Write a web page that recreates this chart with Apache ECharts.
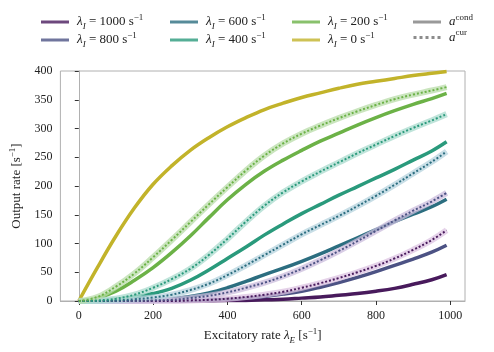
<!DOCTYPE html>
<html>
<head>
<meta charset="utf-8">
<script src="https://cdn.jsdelivr.net/npm/echarts@6/dist/echarts.min.js"></script>
<style>
  html, body { margin: 0; background: #ffffff; }
  #chart { width: 494px; height: 352px; }
</style>
</head>
<body>
<div id="chart"></div>
<script>
// excitatory rate lambda_E [1/s]
const rateE = [0, 50, 100, 150, 200, 250, 300, 350, 400, 450, 500, 550, 600, 650, 700, 750, 800, 850, 900, 950, 990];

// inhibitory rates lambda_I [1/s]
const inhRates = [1000, 800, 600, 400, 200, 0];

// a^cond (solid) output rates
const cond1000 = [0, 0, 0, 0, 0, 0, 0, 0, 1, 1, 2, 3, 5, 7, 10, 13, 17, 22, 29, 37, 46];
const cond800 = [0, 0, 0, 0, 0, 0, 1, 2, 3, 5, 8, 12, 17, 24, 32, 41, 51, 62, 73, 85, 97];
const cond600 = [0, 0, 0, 1, 2, 4, 8, 14, 23, 34, 46, 57, 69, 82, 96, 110, 124, 138, 151, 164, 177];
const cond400 = [0, 1, 3, 7, 13, 22, 36, 54, 74, 94, 115, 134, 152, 168, 184, 199, 214, 229, 245, 261, 277];
const cond200 = [0, 5, 17, 36, 58, 84, 113, 145, 176, 203, 226, 245, 262, 278, 292, 306, 319, 331, 342, 352, 361];
const cond0 = [0, 58, 113, 162, 203, 235, 262, 284, 303, 319, 333, 344, 354, 362, 370, 377, 382, 387, 392, 396, 399];

// a^cur (dotted) output rates
const cur1000 = [0, 0, 0, 0, 0, 0, 1, 2, 4, 7, 11, 16, 23, 31, 40, 50, 61, 74, 89, 106, 123];
const cur800 = [0, 0, 0, 0, 1, 2, 5, 9, 15, 23, 32, 43, 56, 71, 87, 104, 122, 140, 157, 173, 188];
const cur600 = [0, 0, 1, 3, 6, 11, 19, 30, 45, 62, 80, 98, 116, 132, 148, 165, 183, 202, 222, 242, 260];
const cur400 = [0, 1, 4, 11, 23, 38, 56, 80, 108, 138, 166, 189, 208, 225, 241, 257, 272, 287, 301, 314, 325];
const cur200 = [0, 7, 25, 48, 76, 106, 137, 168, 198, 227, 253, 274, 291, 305, 318, 330, 341, 351, 359, 366, 372];

const xTicks = [0, 200, 400, 600, 800, 1000];
const yTicks = [0, 50, 100, 150, 200, 250, 300, 350, 400];

const condData = [cond1000, cond800, cond600, cond400, cond200, cond0];
const curData = [cur1000, cur800, cur600, cur400, cur200, null];

const lineColors = ["#481a5c", "#4c5284", "#2c6e80", "#2a9a7c", "#6cb247", "#c2b32a"];
const bandColors = ["#dcc3e2", "#cbbcdc", "#b5d3de", "#a9dbcd", "#b8dca8", null];

const fontFamily = "Liberation Serif";
const rich = {
  t: { fontFamily, fontSize: 13, color: "#222", verticalAlign: "middle", lineHeight: 18 },
  l: { fontFamily, fontSize: 13, color: "#222", fontStyle: "italic", verticalAlign: "middle", lineHeight: 18 },
  s: { fontFamily, fontSize: 9, color: "#222", fontStyle: "italic", verticalAlign: "bottom", lineHeight: 18 },
  p: { fontFamily, fontSize: 9, color: "#222", verticalAlign: "top", lineHeight: 18 },
};

const pairs = (ys) => rateE.map((x, i) => [x, ys[i]]);

const series = [];
inhRates.forEach((r, k) => {
  series.push({
    name: "l" + r,
    type: "line",
    data: pairs(condData[k]),
    symbol: "none",
    smooth: 0.4,
    lineStyle: { color: lineColors[k], width: 3.5 },
    itemStyle: { color: lineColors[k] },
    z: 2,
  });
});
inhRates.forEach((r, k) => {
  if (!curData[k]) return;
  series.push({
    name: "band" + r,
    type: "line",
    data: pairs(curData[k]),
    symbol: "none",
    smooth: 0.4,
    lineStyle: { color: bandColors[k], width: 6, opacity: 0.75 },
    z: 3,
  });
  series.push({
    name: "dots" + r,
    type: "line",
    data: pairs(curData[k]),
    symbol: "none",
    smooth: 0.4,
    lineStyle: { color: lineColors[k], width: 2, type: [2, 2] },
    z: 4,
  });
});
// legend-only entries
series.push({ name: "cond", type: "line", data: [], itemStyle: { color: "#808080" } });
series.push({ name: "cur", type: "line", data: [], itemStyle: { color: "#808080" } });

const legendLabel = (name) => {
  if (name === "cond") return "{l|a}{p|cond}";
  if (name === "cur") return "{l|a}{p|cur}";
  const r = name.slice(1);
  return "{l|λ}{s|I}{t| = " + r + " s}{p|−1}";
};

const dotIcon = "path://M0,0h3v3h-3zM6,0h3v3h-3zM12,0h3v3h-3zM18,0h3v3h-3zM24,0h3v3h-3z";

const makeLegend = (left, names) => ({
  left,
  top: 13,
  padding: 0,
  orient: "vertical",
  itemGap: 0,
  itemWidth: 28,
  itemHeight: 3,
  icon: "rect",
  selectedMode: false,
  formatter: legendLabel,
  textStyle: { rich, padding: [0, 0, 0, 3] },
  data: names.map((n) =>
    n === "cur"
      ? { name: n, icon: dotIcon, itemStyle: { color: "#808080", opacity: 0.9 } }
      : { name: n, itemStyle: { opacity: 0.8 } }
  ),
});

const chart = echarts.init(document.getElementById("chart"));
chart.setOption({
  animation: false,
  backgroundColor: "#ffffff",
  textStyle: { fontFamily },
  legend: [
    makeLegend(41, ["l1000", "l800"]),
    makeLegend(170, ["l600", "l400"]),
    makeLegend(292, ["l200", "l0"]),
    makeLegend(413, ["cond", "cur"]),
  ],
  grid: {
    left: 57,
    right: 29,
    top: 71,
    bottom: 51,
    show: true,
    borderColor: "#b0b0b0",
    borderWidth: 1,
  },
  xAxis: {
    type: "value",
    min: -49.5,
    max: 1039.5,
    name: "{t|Excitatory rate }{l|λ}{s|E}{t| [s}{p|−1}{t|]}",
    nameLocation: "middle",
    nameGap: 21,
    nameTextStyle: { rich },
    axisLine: { show: true, onZero: false, lineStyle: { color: "#b0b0b0" } },
    axisTick: { show: true, customValues: xTicks, length: 4, lineStyle: { color: "#333" } },
    axisLabel: { customValues: xTicks, formatter: (v) => String(v), fontFamily, fontSize: 12, color: "#222", margin: 9 },
    splitLine: { show: false },
  },
  yAxis: {
    type: "value",
    min: 0,
    max: 400,
    name: "{t|Output rate [s}{p|−1}{t|]}",
    nameLocation: "middle",
    nameGap: 31,
    nameTextStyle: { rich },
    axisLine: { show: true, lineStyle: { color: "#b0b0b0" } },
    axisTick: { show: true, customValues: yTicks, length: 4, lineStyle: { color: "#333" } },
    axisLabel: { customValues: yTicks, formatter: (v) => String(v), fontFamily, fontSize: 12, color: "#222", margin: 8 },
    splitLine: { show: false },
  },
  series,
});
</script>
</body>
</html>
